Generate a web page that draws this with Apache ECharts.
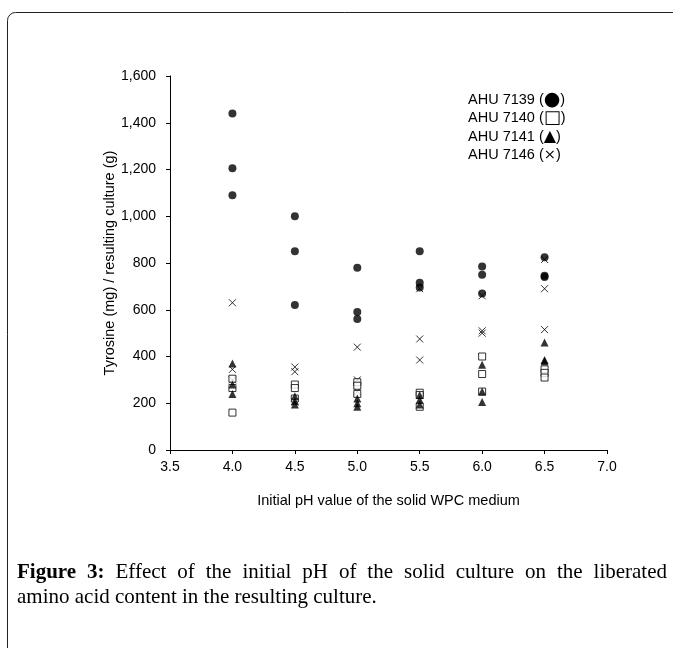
<!DOCTYPE html>
<html>
<head>
<meta charset="utf-8">
<script src="https://cdn.jsdelivr.net/npm/echarts@6/dist/echarts.min.js"></script>
<style>html,body{margin:0;padding:0;background:#fff;}#c{width:673px;height:648px;}</style>
</head>
<body>
<div id="c"></div>
<script>
// pH values (x) and three replicate measurements per pH for each strain
const phValues = [4.0, 4.5, 5.0, 5.5, 6.0, 6.5];
const ahu7139 = [[1440, 1205, 1090], [1000, 850, 620], [780, 590, 560], [850, 715, 695], [785, 750, 670], [825, 745, 740]];
const ahu7140 = [[305, 265, 160], [280, 265, 220], [290, 275, 240], [245, 235, 185], [400, 325, 250], [345, 330, 310]];
const ahu7141 = [[370, 280, 240], [230, 210, 195], [220, 200, 185], [235, 215, 195], [365, 250, 205], [460, 385, 380]];
const ahu7146 = [[630, 345, 300], [355, 335, 205], [440, 300, 250], [690, 475, 385], [660, 510, 500], [815, 690, 515]];
const legendNames = ['AHU 7139', 'AHU 7140', 'AHU 7141', 'AHU 7146'];
const legendGlyphs = ['\u25CF', '\u25A1', '\u25B2', '\u00D7'];
const xTicks = {min: 3.5, max: 7.0, step: 0.5};
const yTicks = {min: 0, max: 1600, step: 200};
const xTitle = 'Initial pH value of the solid WPC medium';
const yTitle = 'Tyrosine (mg) / resulting culture (g)';
const captionBold = 'Figure 3:';
const captionRest = 'Effect of the initial pH of the solid culture on the liberated';
const captionLine2 = 'amino acid content in the resulting culture.';

function pairs(vals) {
  const out = [];
  phValues.forEach((ph, i) => vals[i].forEach(v => out.push([ph, v])));
  return out;
}

const sansFont = '"Liberation Sans", Arial, "DejaVu Sans", sans-serif';
const serifFont = '"Liberation Serif", "Times New Roman", "DejaVu Serif", serif';
const capSize = 21;

// justified first caption line: measure words, spread the gaps
const mctx = document.createElement('canvas').getContext('2d');
const capWords = captionBold.split(' ').map(w => ({w, bold: true}))
  .concat(captionRest.split(' ').map(w => ({w, bold: false})));
let totalW = 0;
capWords.forEach(o => {
  mctx.font = (o.bold ? 'bold ' : '') + capSize + 'px ' + serifFont;
  o.width = mctx.measureText(o.w).width;
  totalW += o.width;
});
const capLeft = 17, capRight = 667;
const gapW = (capRight - capLeft - totalW) / (capWords.length - 1);
const capGraphics = [];
let cx = capLeft;
capWords.forEach(o => {
  capGraphics.push({type: 'text', x: cx, y: 562, silent: true,
    style: {text: o.w, font: (o.bold ? 'bold ' : '') + capSize + 'px ' + serifFont, fill: '#000'}});
  cx += o.width + gapW;
});
capGraphics.push({type: 'text', x: capLeft, y: 587, silent: true,
  style: {text: captionLine2, font: capSize + 'px ' + serifFont, fill: '#000'}});

const glyphSizes = [19, 18, 16, 14.5];
const legendGraphics = legendNames.map((n, i) => ({
  type: 'text', x: 468, y: 100 + i * 18.4, silent: true,
  style: {
    text: '{t|' + n + ' (}{s|' + legendGlyphs[i] + '}{t|)}',
    verticalAlign: 'middle',
    rich: {
      t: {fontFamily: sansFont, fontSize: 14.5, fill: '#000', lineHeight: 18, verticalAlign: 'middle'},
      s: {fontFamily: '"DejaVu Sans", sans-serif', fontSize: glyphSizes[i], fill: '#000', lineHeight: 18, verticalAlign: 'middle'}
    }
  }
}));

const chart = echarts.init(document.getElementById('c'), null, {renderer: 'canvas'});
chart.setOption({
  backgroundColor: '#fff',
  animation: false,
  grid: {left: 170, right: 66, top: 76, bottom: 198},
  xAxis: {
    type: 'value', min: xTicks.min, max: xTicks.max, interval: xTicks.step,
    name: xTitle, nameLocation: 'middle', nameGap: 43, nameMoveOverlap: false,
    nameTextStyle: {fontFamily: sansFont, fontSize: 14.5, color: '#000'},
    axisLine: {show: true, lineStyle: {color: '#000', width: 1}},
    axisTick: {show: true, inside: false, length: 4, lineStyle: {color: '#000'}},
    axisLabel: {fontFamily: sansFont, fontSize: 14, color: '#000', margin: 10,
      formatter: v => v.toFixed(1)},
    splitLine: {show: false}
  },
  yAxis: {
    type: 'value', min: yTicks.min, max: yTicks.max, interval: yTicks.step,
    name: yTitle, nameLocation: 'middle', nameGap: 53, nameRotate: 90, nameMoveOverlap: false,
    nameTextStyle: {fontFamily: sansFont, fontSize: 14.5, color: '#000'},
    axisLine: {show: true, lineStyle: {color: '#000', width: 1}},
    axisTick: {show: true, inside: false, length: 4, lineStyle: {color: '#000'}},
    axisLabel: {fontFamily: sansFont, fontSize: 14, color: '#000', margin: 14,
      formatter: v => v.toLocaleString('en-US')},
    splitLine: {show: false}
  },
  series: [
    {name: 'AHU 7139', type: 'scatter', data: pairs(ahu7139), symbol: 'circle', symbolSize: 8,
      itemStyle: {color: '#000'}, z: 5},
    {name: 'AHU 7140', type: 'scatter', data: pairs(ahu7140), symbol: 'rect', symbolSize: 7,
      itemStyle: {color: '#fff', borderColor: '#000', borderWidth: 1}, z: 3},
    {name: 'AHU 7141', type: 'scatter', data: pairs(ahu7141), symbol: 'triangle', symbolSize: 8,
      itemStyle: {color: '#000'}, z: 4},
    {name: 'AHU 7146', type: 'scatter', data: pairs(ahu7146), symbol: 'path://M0,0L10,10M0,10L10,0', symbolSize: 7,
      itemStyle: {color: 'rgba(0,0,0,0)', borderColor: '#000', borderWidth: 1}, z: 2}
  ],
  graphic: [
    {type: 'rect', shape: {x: 7.5, y: 12.5, width: 720, height: 720, r: 8}, silent: true,
      style: {fill: 'none', stroke: '#222', lineWidth: 1}, z: -1}
  ].concat(legendGraphics, capGraphics)
});
</script>
</body>
</html>
